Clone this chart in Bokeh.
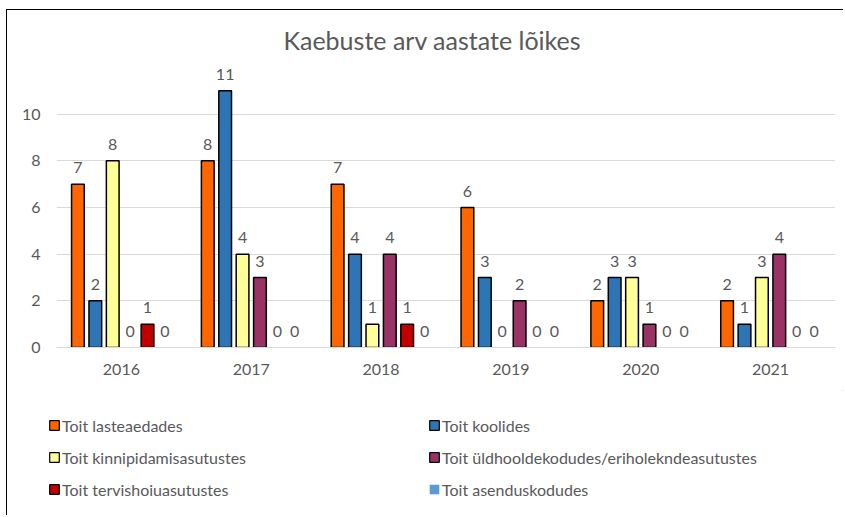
from bokeh.plotting import figure
from bokeh.models import (Range1d, FactorRange, FixedTicker, Legend, LegendItem,
                          ColumnDataSource)
from bokeh.layouts import column
from bokeh.transform import dodge
from bokeh.core.properties import value
from bokeh.embed import file_html
from bokeh.resources import INLINE

# ---- data ----
years = ["2016", "2017", "2018", "2019", "2020", "2021"]
series_names = [
    "Toit lasteaedades",
    "Toit koolides",
    "Toit kinnipidamisasutustes",
    "Toit üldhooldekodudes/eriholekndeasutustes",
    "Toit tervishoiuasutustes",
    "Toit asenduskodudes",
]
lasteaedades = [7, 8, 7, 6, 2, 2]
koolides = [2, 11, 4, 3, 3, 1]
kinnipidamisasutustes = [8, 4, 1, 0, 3, 3]
yldhooldekodudes = [0, 3, 4, 2, 1, 4]
tervishoiuasutustes = [1, 0, 1, 0, 0, 0]
asenduskodudes = [0, 0, 0, 0, 0, 0]
y_ticks = [0, 2, 4, 6, 8, 10]
title_text = "Kaebuste arv aastate lõikes"

series_values = [lasteaedades, koolides, kinnipidamisasutustes,
                 yldhooldekodudes, tervishoiuasutustes, asenduskodudes]
colors = ["#FF6600", "#2E75B6", "#FFFF99", "#993366", "#C00000", "#5B9BD5"]
outline = ["black", "black", "black", "black", "black", None]

FONT = "Lato"
TXT = "#595959"
W = 836

# ---- main chart ----
p = figure(x_range=FactorRange(*years), y_range=Range1d(0, 12),
           width=W, height=380, output_backend="svg", toolbar_location=None,
           min_border_left=49, min_border_right=8, min_border_top=55,
           min_border_bottom=43)
p.frame_align = False
p.outline_line_color = None
p.background_fill_color = "white"
p.border_fill_color = "white"

p.title.text = title_text
p.title.align = "left"
p.title.offset = 227
p.title.text_font = FONT
p.title.text_font_size = "25px"
p.title.text_font_style = "normal"
p.title.text_color = TXT
p.title.standoff = 25

p.xgrid.grid_line_color = None
p.ygrid.ticker = FixedTicker(ticks=y_ticks)
p.ygrid.grid_line_color = "#D9D9D9"
p.ygrid.grid_line_width = 1

p.yaxis.ticker = FixedTicker(ticks=y_ticks)
p.yaxis.axis_line_color = None
p.yaxis.major_tick_line_color = None
p.yaxis.major_tick_out = 0
p.yaxis.minor_tick_line_color = None
p.yaxis.major_label_text_font = FONT
p.yaxis.major_label_text_font_size = "16px"
p.yaxis.major_label_text_color = TXT
p.yaxis.major_label_standoff = 16

p.xaxis.axis_line_color = "#D9D9D9"
p.xaxis.axis_line_width = 1
p.xaxis.major_tick_line_color = None
p.xaxis.major_tick_out = 0
p.xaxis.minor_tick_line_color = None
p.xaxis.major_label_text_font = FONT
p.xaxis.major_label_text_font_size = "16px"
p.xaxis.major_label_text_color = TXT
p.xaxis.major_label_standoff = 16

slot = 0.134
offsets = [(i - 2.5) * slot for i in range(6)]
for i, (name, vals) in enumerate(zip(series_names, series_values)):
    src = ColumnDataSource(dict(
        year=years, v=vals,
        la=[1 if (v > 0 and outline[i]) else 0 for v in vals],
        lbl=[str(v) for v in vals]))
    p.vbar(x=dodge("year", offsets[i], range=p.x_range), top="v",
           width=0.098, source=src, fill_color=colors[i],
           line_color=outline[i] or colors[i], line_width=1.5,
           line_alpha="la")
    p.text(x=dodge("year", offsets[i], range=p.x_range), y="v", text="lbl",
           source=src, text_align="center", text_baseline="bottom",
           y_offset=-11, text_font=value(FONT), text_font_size="16px",
           text_color=TXT)

# ---- legend strip ----
lg = figure(x_range=Range1d(0, 1), y_range=Range1d(0, 1), width=W, height=125,
            output_backend="svg", toolbar_location=None,
            x_axis_type=None, y_axis_type=None,
            min_border_left=0, min_border_right=0, min_border_top=0,
            min_border_bottom=0)
lg.frame_align = False
lg.outline_line_color = None
lg.grid.grid_line_color = None
lg.background_fill_color = "white"
lg.border_fill_color = "white"

items = []
for i, name in enumerate(series_names):
    # legend-only renderer: its single bar lies outside the strip's ranges
    dummy = ColumnDataSource(dict(x=[5.0], top=[5.0], bottom=[4.0]))
    r = lg.vbar(x="x", top="top", bottom="bottom", width=0.1, source=dummy,
                fill_color=colors[i], line_color=outline[i],
                line_width=1.2)
    items.append(LegendItem(label=name, renderers=[r]))

legend = Legend(items=items, orientation="horizontal", ncols=2,
                location=(41, 16), glyph_width=12, glyph_height=12,
                label_text_font=FONT, label_text_font_size="16px",
                label_text_color=TXT, label_standoff=2, label_height=20,
                label_width=354, spacing=12, padding=0, margin=0,
                border_line_alpha=0, background_fill_alpha=0)
lg.add_layout(legend, "center")

layout = column(p, lg, spacing=0,
                styles={"margin-left": "6px", "margin-top": "9px",
                        "border-left": "1px solid black",
                        "border-top": "1px solid black"})

open("out.html", "w").write(file_html(layout, INLINE))
